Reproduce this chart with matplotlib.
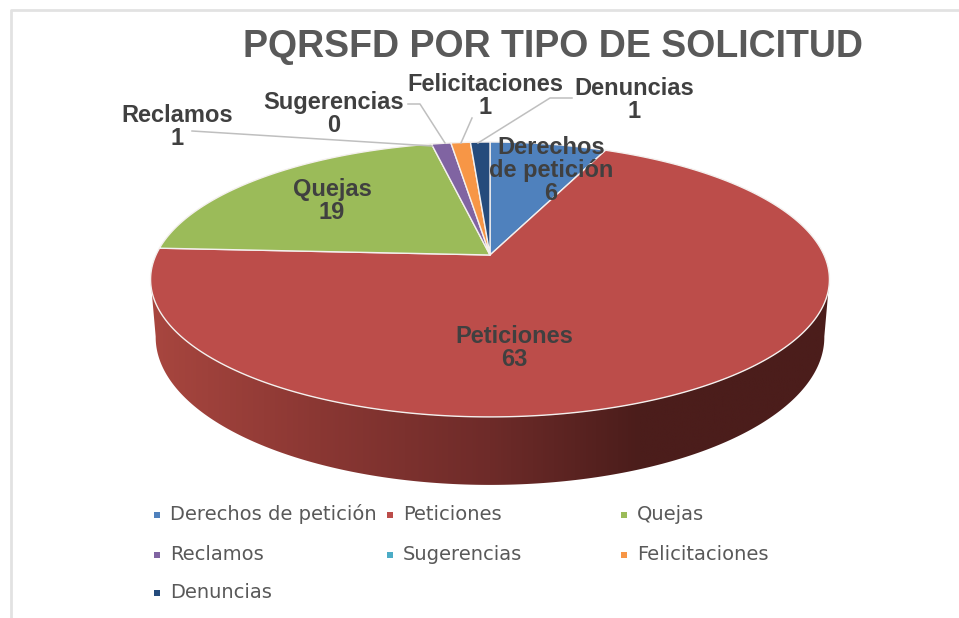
import numpy as np
import matplotlib
matplotlib.use('Agg')
import matplotlib.pyplot as plt
from matplotlib.colors import LinearSegmentedColormap
from matplotlib.patches import Polygon

categories = ['Derechos de petición', 'Peticiones', 'Quejas', 'Reclamos',
              'Sugerencias', 'Felicitaciones', 'Denuncias']
values = [6, 63, 19, 1, 0, 1, 1]
colors = ['#4F81BD', '#BC4D4A', '#9BBB59', '#8064A2',
          '#4BACC6', '#F79646', '#254B7C']
wall_stops = [(0, '#A8463F'), (0.25, '#8A3733'), (0.5, '#6E2B29'),
              (0.72, '#4B1D1B'), (1, '#4B1D1B')]
title = 'PQRSFD POR TIPO DE SOLICITUD'

text_color = '#404040'
legend_text_color = '#595959'
leader_color = '#BFBFBF'

# perspective of the disc, in image pixels
CX, CY = 490, 255
K, A, C = 334, -87.7, 0.178
DEPTH = 68


def project(theta):
    u, v = np.sin(theta), np.cos(theta)
    d = 1 + C * v
    return CX + K * u / d, (A * v + CY) / d


def project_bottom(theta):
    x, y = project(theta)
    d = 1 + C * np.cos(theta)
    return CX + (x - CX) * 0.985, y + DEPTH * (1 - C) / d


fig = plt.figure(figsize=(9.59, 6.18), dpi=100, facecolor='white')
ax = fig.add_axes([0, 0, 1, 1])

# ========= side wall ====== #
front = np.radians(np.linspace(100, 260, 200))
tx, ty = project(front)
bx, by = project_bottom(front)
wall = Polygon(
    np.column_stack([np.r_[tx, bx[::-1]], np.r_[ty, by[::-1]]]),
    closed=True, facecolor='none', edgecolor='none'
)
ax.add_patch(wall)
cmap = LinearSegmentedColormap.from_list('wall', wall_stops)
shade = np.linspace(0, 1, 256).reshape(1, -1)
im = ax.imshow(shade, cmap=cmap, extent=(150, 830, 490, 270), aspect='auto', zorder=1)
im.set_clip_path(wall)

# ========= top of the pie ====== #
edges = np.cumsum([0] + values) / sum(values) * 2 * np.pi
for i, val in enumerate(values):
    if val == 0:
        continue
    t = np.linspace(edges[i], edges[i + 1], max(int(val * 12), 20))
    x, y = project(t)
    ax.fill(np.r_[CX, x], np.r_[CY, y], facecolor=colors[i], edgecolor='#F4F0EE',
            linewidth=1.0, zorder=2, joinstyle='round')

# ========= labels ====== #
ax.text(553, 47, title, ha='center', va='center', fontsize=27, fontweight='bold',
        family='Liberation Sans', color='#595959')

label_pos = [(551, 170), (514, 348), (332, 201), (177, 127),
             (334, 114), (485, 96), (634, 100)]
label_text = ['Derechos\nde petición', 'Peticiones', 'Quejas', 'Reclamos',
              'Sugerencias', 'Felicitaciones', 'Denuncias']
for (x, y), name, val in zip(label_pos, label_text, values):
    ax.text(x, y, f'{name}\n{val}', ha='center', va='center', fontsize=17,
            family='Liberation Sans', fontweight='bold', color=text_color,
            linespacing=1.0, zorder=4)

leaders = [
    ([192, 432], [131, 146]),
    ([408, 420, 445], [104, 104, 143]),
    ([472, 461], [118, 143]),
    ([572, 550, 478], [98, 98, 143]),
]
for lx, ly in leaders:
    ax.plot(lx, ly, color=leader_color, linewidth=1.1, zorder=3)

# ========= legend ====== #
legend_x = [157, 390, 624]
legend_y = [514, 554, 592]
for i, name in enumerate(categories):
    row, col = divmod(i, 3)
    ax.scatter(legend_x[col], legend_y[row] + 1, marker='s', s=22, color=colors[i],
               linewidths=0, zorder=3)
    ax.text(legend_x[col] + 13, legend_y[row], name, ha='left', va='center',
            fontsize=14, color=legend_text_color, family='DejaVu Sans')

# chart frame, cut by the screenshot on the right and below
ax.plot([11, 11, 958], [618, 10, 10], color='#E2E2E2', linewidth=2, zorder=1)

ax.set_xlim(0, 959)
ax.set_ylim(618, 0)
ax.axis('off')

fig.savefig('out.png', dpi=100)
